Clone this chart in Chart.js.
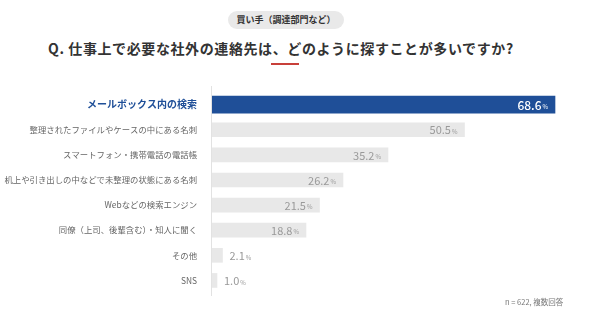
<!DOCTYPE html>
<html>
<head>
<meta charset="utf-8">
<script src="https://cdn.jsdelivr.net/npm/chart.js@4/dist/chart.umd.min.js"></script>
<style>
  body { margin: 0; width: 590px; height: 326px; background: #fff; font-family: "Noto Sans CJK JP", sans-serif; overflow: hidden; position: relative; }
  .tag { position: absolute; left: 228px; top: 11px; width: 116px; height: 18px; border-radius: 9px; background: #e9e9e9; color: #333; font-size: 9px; font-weight: bold; line-height: 18px; text-align: center; }
  .title { position: absolute; left: 48px; top: 38px; white-space: nowrap; font-size: 14px; font-weight: bold; color: #333; letter-spacing: 0.6px; }
  .redline { position: absolute; left: 271px; top: 63px; width: 28px; height: 2px; background: #c8403a; }
  .note { position: absolute; left: 505px; top: 296px; font-size: 7.5px; color: #777; }
  .wrap { position: absolute; left: 0; top: 80px; width: 590px; height: 226px; }
</style>
</head>
<body>
<div class="tag">買い手（調達部門など）</div>
<div class="title">Q. 仕事上で必要な社外の連絡先は、どのように探すことが多いですか?</div>
<div class="redline"></div>
<div class="wrap"><canvas id="chart"></canvas></div>
<div class="note">n = 622, 複数回答</div>
<script>
// カテゴリと値
const categories = [
  'メールボックス内の検索',
  '整理されたファイルやケースの中にある名刺',
  'スマートフォン・携帯電話の電話帳',
  '机上や引き出しの中などで未整理の状態にある名刺',
  'Webなどの検索エンジン',
  '同僚（上司、後輩含む）・知人に聞く',
  'その他',
  'SNS'
];
const values = [68.6, 50.5, 35.2, 26.2, 21.5, 18.8, 2.1, 1.0];

const blue = '#1f4f98';
const gray = '#e8e8e8';

// 先頭だけ太いバーにするため2つに分ける
const topValues = values.map((v, i) => i === 0 ? v : null);
const restValues = values.map((v, i) => i === 0 ? null : v);

// 値ラベル（数字 + 小さい%）
const valueLabels = {
  id: 'valueLabels',
  afterDatasetsDraw(chart) {
    const ctx = chart.ctx;
    const xs = chart.scales.x;
    const ys = chart.scales.y;
    ctx.save();
    ctx.textBaseline = 'middle';
    values.forEach((v, i) => {
      const num = v.toFixed(1);
      const end = xs.getPixelForValue(v);
      const y = ys.getPixelForValue(i) + 0.5;
      const numFont = (i === 0 ? '500 12px' : '11px') + ' "Noto Sans CJK JP", sans-serif';
      const pctFont = '6px "Noto Sans CJK JP", sans-serif';
      ctx.font = numFont;
      const nw = ctx.measureText(num).width;
      ctx.font = pctFont;
      const pw = ctx.measureText('%').width;
      const inside = v > 10;
      const x0 = inside ? end - 7 - nw - pw - 1 : end + 7;
      ctx.fillStyle = i === 0 ? '#fff' : '#999';
      ctx.textAlign = 'left';
      ctx.font = numFont;
      ctx.fillText(num, x0, y);
      ctx.font = pctFont;
      ctx.fillText('%', x0 + nw + 1, y + 1.5);
    });
    ctx.restore();
  }
};

// 縦軸の線
const axisLine = {
  id: 'axisLine',
  beforeDatasetsDraw(chart) {
    const a = chart.chartArea;
    const ctx = chart.ctx;
    ctx.save();
    ctx.strokeStyle = '#e2e2e2';
    ctx.lineWidth = 1;
    ctx.beginPath();
    ctx.moveTo(a.left - 0.5, a.top - 6);
    ctx.lineTo(a.left - 0.5, a.bottom + 3);
    ctx.stroke();
    ctx.restore();
  }
};

new Chart(document.getElementById('chart'), {
  type: 'bar',
  data: {
    labels: categories,
    datasets: [
      { data: topValues, backgroundColor: blue, barThickness: 17, grouped: false },
      { data: restValues, backgroundColor: gray, barThickness: 14, grouped: false }
    ]
  },
  options: {
    indexAxis: 'y',
    responsive: true,
    maintainAspectRatio: false,
    animation: false,
    layout: { padding: { top: 6, bottom: 3, right: 0, left: 0 } },
    plugins: { legend: { display: false }, tooltip: { enabled: false } },
    scales: {
      x: { display: false, min: 0, max: 75.6 },
      y: {
        grid: { display: false },
        border: { display: false },
        afterFit(scale) { scale.width = 212; },
        ticks: {
          padding: 7,
          color: (c) => c.index === 0 ? blue : '#666',
          font: (c) => c.index === 0
            ? { size: 10, weight: 'bold', family: '"Noto Sans CJK JP", sans-serif' }
            : { size: 8.4, family: '"Noto Sans CJK JP", sans-serif' }
        }
      }
    }
  },
  plugins: [valueLabels, axisLine]
});
</script>
</body>
</html>
